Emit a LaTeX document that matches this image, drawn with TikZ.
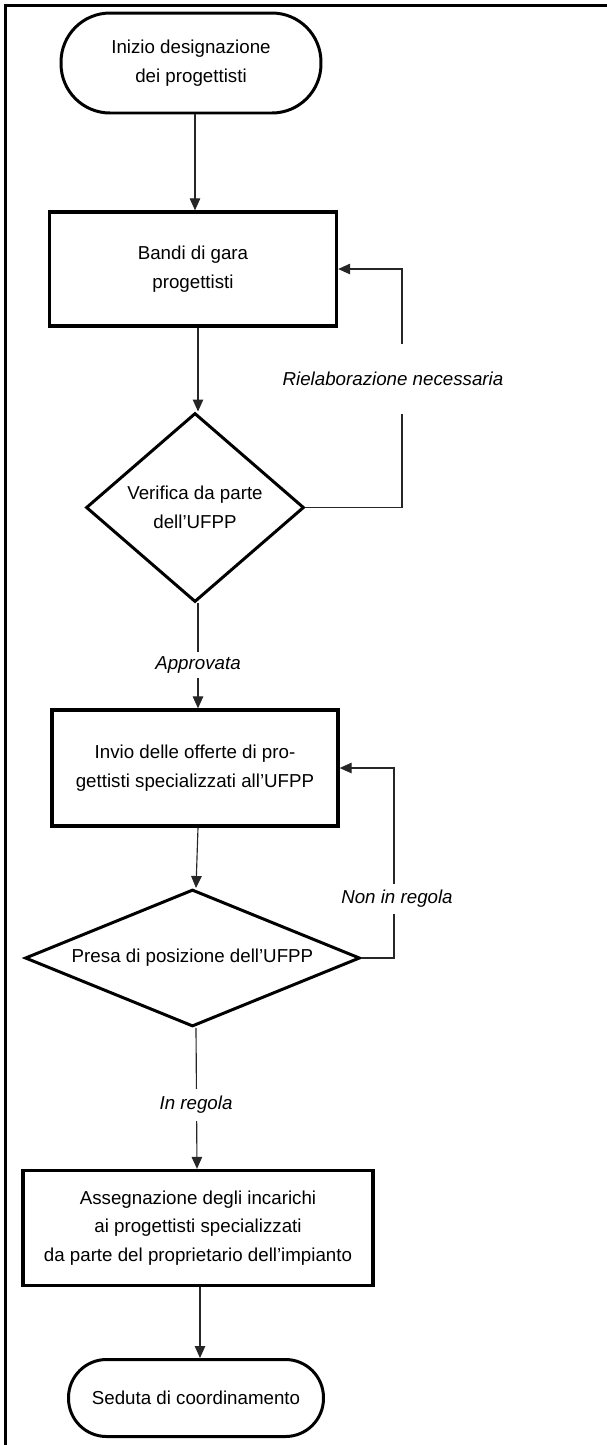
\documentclass[tikz,border=0pt]{standalone}
\usepackage{fontspec}
\setmainfont{Liberation Sans}
\usetikzlibrary{arrows.meta,shapes.geometric}
\begin{document}
\begin{tikzpicture}[x=0.02cm,y=-0.02cm,
  font=\fontsize{10.66pt}{16.2pt}\selectfont,
  every node/.style={align=center,inner sep=0pt},
  terminal/.style={draw,line width=1.7pt,rectangle},
  process/.style={draw,line width=1.9pt,rectangle},
  decision/.style={draw,line width=1.7pt,diamond},
  arr/.style={line width=0.65pt,draw=black!85,-{Triangle[length=2.4mm,width=2.1mm]}},
  cond/.style={fill=white,font=\fontsize{10.66pt}{16.2pt}\selectfont\itshape}]
\useasboundingbox (0,0) rectangle (607,1445);
% outer frame (top and left edges)
\draw[line width=1.7pt,line join=miter] (607,5.8) -- (5.5,5.8) -- (5.5,1445);

% nodes
\node[terminal,rounded corners=0.98cm,minimum width=5.2cm,minimum height=2cm]
  (start) at (191,63) {Inizio designazione\\dei progettisti};
\node[process,minimum width=5.74cm,minimum height=2.28cm]
  (bandi) at (193,269) {Bandi di gara\\progettisti};
\node[decision,aspect=1.15,minimum width=4.36cm,minimum height=3.78cm]
  (verif) at (195,507.5) {Verifica da parte\\dell’UFPP};
\node[process,minimum width=5.72cm,minimum height=2.32cm]
  (invio) at (195,768) {Invio delle offerte di pro-\\gettisti specializzati all’UFPP};
\node[decision,aspect=2.45,minimum width=6.7cm,minimum height=2.74cm]
  (presa) at (192.5,958) {Presa di posizione dell’UFPP};
\node[process,minimum width=7.0cm,minimum height=2.3cm]
  (asse) at (198,1228) {Assegnazione degli incarichi\\ai progettisti specializzati\\da parte del proprietario dell’impianto};
\node[terminal,rounded corners=0.76cm,minimum width=5.1cm,minimum height=1.54cm]
  (fine) at (196,1398) {Seduta di coordinamento};

% main flow
\draw[arr] (start.south -| 195,0) -- (bandi.north -| 195,0);
\draw[arr] (bandi.south -| 198,0) -- (verif.north -| 198,0);
\draw[arr] (verif.south -| 198,0) -- (invio.north -| 198,0);
\draw[arr] (invio.south -| 198,0) -- (presa.north -| 196,0);
\draw[arr] (presa.south -| 196,0) -- (asse.north -| 197,0);
\draw[arr] (asse.south -| 200,0) -- (fine.north -| 200,0);

% feedback loops
\coordinate (k1) at (402,0);
\coordinate (k2) at (394,0);
\draw[arr] (verif.east) -- (verif.east -| k1) |- (bandi.east);
\draw[arr] (presa.east) -- (presa.east -| k2) |- (invio.east);

% condition labels
\node[cond,inner xsep=2pt,inner ysep=0.56cm] (lrie) at (393,379) {Rielaborazione necessaria};
\node[cond,inner xsep=2pt,inner ysep=0.12cm] (lnon) at (397,899) {Non in regola};
\node[cond,inner xsep=2pt,inner ysep=0.1cm] (lapp) at (198,665) {Approvata};
\node[cond,inner xsep=2pt,inner ysep=0.14cm] (lreg) at (196,1105) {In regola};
\end{tikzpicture}
\end{document}
